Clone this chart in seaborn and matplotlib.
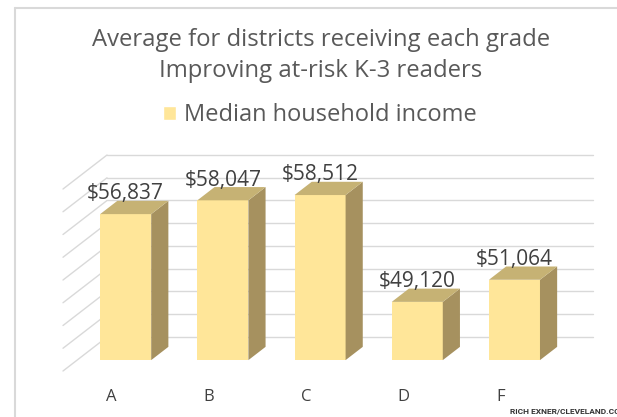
import matplotlib
matplotlib.use('Agg')
import matplotlib.pyplot as plt
from matplotlib.patches import Polygon, Patch
from matplotlib.lines import Line2D
import pandas as pd
import seaborn as sns

# data
grades = ["A", "B", "C", "D", "F"]
income = [56837, 58047, 58512, 49120, 51064]
grid_values = list(range(44000, 60001, 2000))
title_lines = ["Average for districts receiving each grade",
               "Improving at-risk K-3 readers"]
series_name = "Median household income"
credit = "RICH EXNER/CLEVELAND.COM"

FRONT = "#FFE699"
TOP = "#C6B274"
SIDE = "#A6915F"
GRID = "#D9D9D9"
TEXT = "#595959"

# fake 3-D look: back wall is shifted DX categories right and DY dollars up
DX, DY = 0.453, 2990
BAR_FRONT = 0.32   # depth position of bar front face
BAR_DEPTH = 0.39   # depth of the bars themselves
Y0 = grid_values[0]

sns.set_theme(style="white")
plt.rcParams['font.family'] = ['Open Sans', 'DejaVu Sans']

fig = plt.figure(figsize=(6.17, 4.17), dpi=100)
ax = fig.add_axes([63 / 617, 46 / 417, 530 / 617, 216 / 417])

df = pd.DataFrame({"grade": grades, "income": income})
sns.barplot(data=df, x="grade", y="income", color=FRONT, saturation=1,
            width=0.525, errorbar=None, ax=ax, zorder=3)

xl, xr = -0.5, len(grades) - 0.5

# back wall gridlines + left wall diagonals
for g in grid_values:
    ax.plot([xl, xl + DX], [g, g + DY], color=GRID, lw=1, zorder=1, clip_on=False)
    ax.plot([xl + DX, xr + DX], [g + DY, g + DY], color=GRID, lw=1, zorder=1, clip_on=False)

fx, fy = BAR_FRONT * DX, BAR_FRONT * DY
bx, by = BAR_DEPTH * DX, BAR_DEPTH * DY
bars = list(ax.patches)
for bar, val in zip(bars, income):
    x0 = bar.get_x() + fx
    w = bar.get_width()
    yb = Y0 + fy
    yt = val + fy
    bar.set_x(x0)
    bar.set_y(yb)
    bar.set_height(yt - yb)
    bar.set_edgecolor('none')
    bar.set_clip_on(False)
    x1 = x0 + w
    # side face
    ax.add_patch(Polygon([(x1, yb), (x1 + bx, yb + by), (x1 + bx, yt + by), (x1, yt)],
                         closed=True, facecolor=SIDE, edgecolor='none', zorder=3, clip_on=False))
    # top face
    ax.add_patch(Polygon([(x0, yt), (x1, yt), (x1 + bx, yt + by), (x0 + bx, yt + by)],
                         closed=True, facecolor=TOP, edgecolor='none', zorder=3, clip_on=False))
    ax.annotate(f"${val:,}", (x0 + w / 2, yt + by), xytext=(0, 1), textcoords='offset points',
                ha='center', va='baseline', fontsize=15, color="#404040", zorder=4)

ax.set_xlim(xl, xr + DX)
ax.set_ylim(Y0, grid_values[-1] + DY)
ax.set_xticks(range(len(grades)), grades)
ax.tick_params(axis='x', length=0, pad=13, labelsize=12, labelcolor="#404040")
ax.set_yticks([])
ax.set_xlabel('')
ax.set_ylabel('')
sns.despine(ax=ax, left=True, bottom=True)

# titles
fig.text(0.52, 1 - 46.5 / 417, title_lines[0], ha='center', va='baseline',
         fontsize=17.2, color=TEXT)
fig.text(0.52, 1 - 77 / 417, title_lines[1], ha='center', va='baseline',
         fontsize=17.2, color=TEXT)

ax.legend(handles=[Patch(facecolor=FRONT, label=series_name)], loc='center',
          bbox_to_anchor=(0.518, 1 - 115 / 417), bbox_transform=fig.transFigure,
          frameon=False, fontsize=17, handlelength=0.55, handleheight=0.55,
          handletextpad=0.35, labelcolor=TEXT)

fig.text(510 / 617, 1 - 413 / 417, credit, fontsize=6, fontweight='bold',
         color='#333333', va='baseline', family=['Roboto', 'DejaVu Sans'])

# chart frame (light gray, runs off the right/bottom edges)
fig.add_artist(Line2D([15 / 617, 15 / 617], [0, 1 - 8 / 417], color="#D9D9D9", lw=1.5))
fig.add_artist(Line2D([15 / 617, 1], [1 - 8 / 417, 1 - 8 / 417], color="#D9D9D9", lw=1.5))

fig.savefig("out.png", dpi=100)
